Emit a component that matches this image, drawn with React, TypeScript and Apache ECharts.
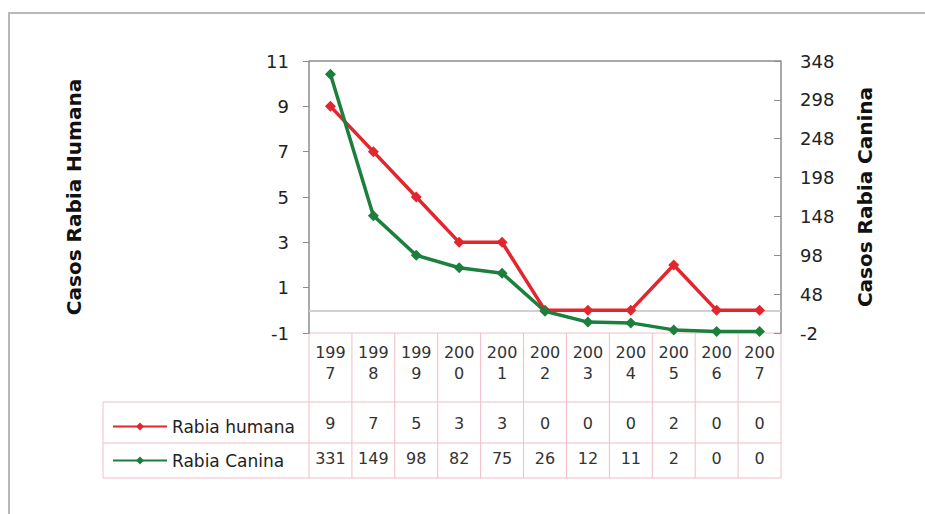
import React, { useEffect, useRef } from "react";
import * as echarts from "echarts";

// Annual cases
const years = ["1997", "1998", "1999", "2000", "2001", "2002", "2003", "2004", "2005", "2006", "2007"];
const rabiaHumana = [9, 7, 5, 3, 3, 0, 0, 0, 2, 0, 0];
const rabiaCanina = [331, 149, 98, 82, 75, 26, 12, 11, 2, 0, 0];

// Axis tick values
const humanTicks = [-1, 1, 3, 5, 7, 9, 11];
const canineTicks = [-2, 48, 98, 148, 198, 248, 298, 348];

const RED = "#e3262d";
const GREEN = "#1c7f3c";
const GRID_PINK = "#f2bcc6";
const AXIS_GRAY = "#8c8c8c";
const FONT = "DejaVu Sans, Verdana, sans-serif";

// Plot + data-table layout
const W = 925;
const H = 514;
const PLOT_L = 309;
const PLOT_R = 781;
const PLOT_T = 61;
const PLOT_B = 333;
const TABLE_L = 103;
const ROW_LINES = [402, 443, 478];

export default function App() {
  const ref = useRef<HTMLDivElement>(null);

  useEffect(() => {
    if (!ref.current) return;
    const chart = echarts.init(ref.current, null, { renderer: "svg" });
    const colW = (PLOT_R - PLOT_L) / years.length;

    const tableLines: any[] = [];
    // horizontal rules of the data table
    tableLines.push({
      type: "line",
      shape: { x1: PLOT_L, y1: PLOT_B, x2: PLOT_R, y2: PLOT_B },
      style: { stroke: GRID_PINK, lineWidth: 1 },
    });
    ROW_LINES.forEach((y) =>
      tableLines.push({
        type: "line",
        shape: { x1: TABLE_L, y1: y, x2: PLOT_R, y2: y },
        style: { stroke: GRID_PINK, lineWidth: 1 },
      })
    );
    // column rules
    for (let i = 0; i <= years.length; i++) {
      const x = PLOT_L + i * colW;
      tableLines.push({
        type: "line",
        shape: { x1: x, y1: PLOT_B, x2: x, y2: ROW_LINES[2] },
        style: { stroke: GRID_PINK, lineWidth: 1 },
      });
    }
    tableLines.push({
      type: "line",
      shape: { x1: TABLE_L, y1: ROW_LINES[0], x2: TABLE_L, y2: ROW_LINES[2] },
      style: { stroke: GRID_PINK, lineWidth: 1 },
    });

    const valueRow = (values: number[], margin: number) => ({
      type: "category",
      gridIndex: 0,
      position: "bottom",
      data: years,
      axisLine: { show: false },
      axisTick: { show: false },
      splitLine: { show: false },
      axisLabel: {
        interval: 0,
        margin,
        verticalAlign: "middle",
        color: "#333",
        fontFamily: FONT,
        fontSize: 16,
        formatter: (_v: string, i: number) => String(values[i]),
      },
    });

    chart.setOption({
      animation: false,
      backgroundColor: "#fff",
      grid: {
        left: PLOT_L,
        right: W - PLOT_R,
        top: PLOT_T,
        bottom: H - PLOT_B,
        containLabel: false,
      },
      legend: {
        orient: "vertical",
        left: TABLE_L + 4,
        top: 413,
        itemGap: 17,
        itemWidth: 54,
        itemHeight: 10,
        textStyle: { fontFamily: FONT, fontSize: 17, color: "#222" },
        data: ["Rabia humana", "Rabia Canina"],
      },
      xAxis: [
        {
          type: "category",
          data: years,
          boundaryGap: true,
          axisLine: { show: false },
          axisTick: { show: false },
          splitLine: { show: false },
          axisLabel: {
            interval: 0,
            margin: 30,
            verticalAlign: "middle",
            lineHeight: 21,
            color: "#333",
            fontFamily: FONT,
            fontSize: 16,
            formatter: (v: string) => v.slice(0, 3) + "\n" + v.slice(3),
          },
        },
        valueRow(rabiaHumana, 90),
        valueRow(rabiaCanina, 125),
      ],
      yAxis: [
        {
          type: "value",
          min: -1,
          max: 11,
          position: "left",
          name: "Casos Rabia Humana",
          nameLocation: "middle",
          nameRotate: 90,
          nameGap: 225,
          nameTextStyle: { fontFamily: FONT, fontSize: 20, fontWeight: "bold", color: "#111" },
          axisLine: { show: true, lineStyle: { color: AXIS_GRAY, width: 1.5 } },
          axisTick: { show: true, length: 6, lineStyle: { color: AXIS_GRAY }, customValues: humanTicks },
          axisLabel: { margin: 20, color: "#222", fontFamily: FONT, fontSize: 18, customValues: humanTicks },
          splitLine: { show: false },
        },
        {
          type: "value",
          min: -2,
          max: 348,
          position: "right",
          name: "Casos Rabia Canina",
          nameLocation: "middle",
          nameRotate: 90,
          nameGap: 74,
          nameTextStyle: { fontFamily: FONT, fontSize: 20, fontWeight: "bold", color: "#111" },
          axisLine: { show: true, lineStyle: { color: AXIS_GRAY, width: 1.5 } },
          axisTick: { show: true, inside: true, length: 7, lineStyle: { color: AXIS_GRAY }, customValues: canineTicks },
          axisLabel: { margin: 19, color: "#222", fontFamily: FONT, fontSize: 18, customValues: canineTicks },
          splitLine: { show: false },
        },
      ],
      series: [
        {
          name: "Rabia humana",
          type: "line",
          yAxisIndex: 0,
          data: rabiaHumana,
          symbol: "diamond",
          symbolSize: 11,
          lineStyle: { color: RED, width: 3.5 },
          itemStyle: { color: RED },
          z: 3,
          markLine: {
            silent: true,
            symbol: "none",
            label: { show: false },
            lineStyle: { color: "#d0d0d0", width: 2, type: "solid" },
            data: [{ yAxis: 0 }],
            z: 1,
          },
        },
        {
          name: "Rabia Canina",
          type: "line",
          yAxisIndex: 1,
          data: rabiaCanina,
          symbol: "diamond",
          symbolSize: 11,
          lineStyle: { color: GREEN, width: 3.5 },
          itemStyle: { color: GREEN },
          z: 4,
        },
      ],
      graphic: [
        {
          type: "rect",
          shape: { x: 9, y: 13, width: W + 20, height: H + 20 },
          style: { fill: "none", stroke: "#b8b8b8", lineWidth: 2 },
          silent: true,
          z: -1,
        },
        {
          type: "line",
          shape: { x1: PLOT_L, y1: PLOT_T, x2: PLOT_R, y2: PLOT_T },
          style: { stroke: AXIS_GRAY, lineWidth: 1.5 },
          silent: true,
        },
        ...tableLines.map((l) => ({ ...l, silent: true })),
      ],
    });

    return () => chart.dispose();
  }, []);

  return (
    <div
      ref={ref}
      style={{ position: "fixed", left: 0, top: 0, width: W, height: H, background: "#fff" }}
    />
  );
}
